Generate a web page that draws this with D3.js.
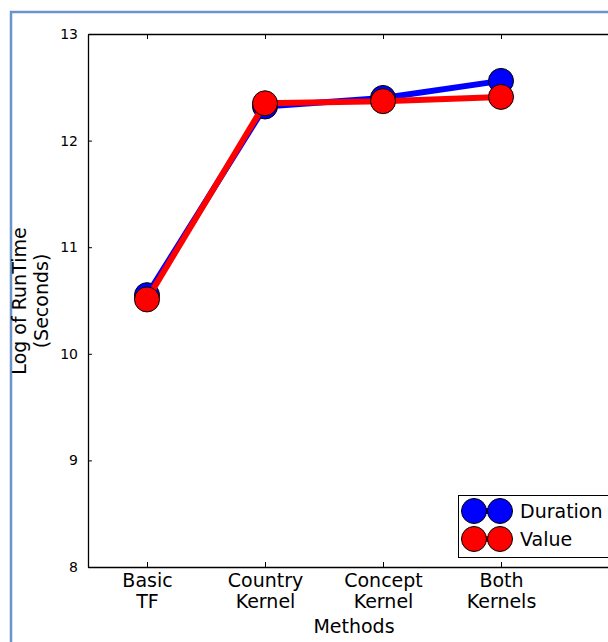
<!DOCTYPE html>
<html>
<head>
<meta charset="utf-8">
<script src="https://cdn.jsdelivr.net/npm/d3@7"></script>
<style>
  html, body { margin: 0; padding: 0; background: #fff; }
  svg { display: block; }
  svg text { font-family: "DejaVu Sans", sans-serif; fill: #000; }
</style>
</head>
<body>
<svg id="chart" width="608" height="642"></svg>
<script>
// Runtime per method, log scale
const categories = [["Basic", "TF"], ["Country", "Kernel"], ["Concept", "Kernel"], ["Both", "Kernels"]];
const durationValues = [10.55, 12.32, 12.40, 12.56];
const valueValues = [10.51, 12.35, 12.37, 12.41];
const yTicks = [8, 9, 10, 11, 12, 13];
const seriesNames = ["Duration", "Value"];
const seriesColors = ["#0000ff", "#ff0000"];

(function draw() {
  const svg = d3.select("#chart");

  // outer frame
  svg.append("path")
    .attr("d", "M11,642 L11,12 L608,12")
    .attr("fill", "none")
    .attr("stroke", "#6a93d0")
    .attr("stroke-width", 2.5);

  const plotLeft = 88, plotTop = 34, plotBottom = 567;
  const x = d3.scaleLinear().domain([0.5, 5.5]).range([plotLeft, plotLeft + 5 * 118]);
  const y = d3.scaleLinear().domain([8, 13]).range([plotBottom, plotTop]);

  const g = svg.append("g");

  // y axis
  const yAxis = d3.axisLeft(y).tickValues(yTicks).tickSizeInner(-4).tickSizeOuter(0).tickPadding(10).tickFormat(d3.format("d"));
  g.append("g").attr("transform", `translate(${plotLeft},0)`).call(yAxis)
    .call(s => s.select(".domain").attr("stroke", "#000").attr("stroke-width", 1.3))
    .call(s => s.selectAll("text").attr("font-size", 14));

  // bottom axis
  const idx = [1, 2, 3, 4];
  const xAxis = d3.axisBottom(x).tickValues(idx).tickSizeInner(-5).tickSizeOuter(0).tickFormat("");
  const xg = g.append("g").attr("transform", `translate(0,${plotBottom})`).call(xAxis);
  xg.select(".domain").attr("stroke", "#000").attr("stroke-width", 1.3);
  xg.selectAll(".tick").each(function(d) {
    const t = d3.select(this).append("text")
      .attr("text-anchor", "middle").attr("font-size", 19);
    categories[d - 1].forEach((line, i) => {
      t.append("tspan").attr("x", 0).attr("y", 20 + i * 21).text(line);
    });
  });

  // top axis
  const tg = g.append("g").attr("transform", `translate(0,${plotTop})`)
    .call(d3.axisTop(x).tickValues(idx).tickSizeInner(-5).tickSizeOuter(0).tickFormat(""));
  tg.select(".domain").attr("stroke", "#000").attr("stroke-width", 1.3);

  // axis titles
  svg.append("text").attr("x", 354).attr("y", 632.5).attr("text-anchor", "middle")
    .attr("font-size", 19).text("Methods");
  const yl = svg.append("text").attr("transform", "translate(0,301) rotate(-90)")
    .attr("text-anchor", "middle").attr("font-size", 19);
  yl.append("tspan").attr("x", 0).attr("y", 26).text("Log of RunTime");
  yl.append("tspan").attr("x", 0).attr("y", 48).text("(Seconds)");

  // series
  const line = d3.line().x((d, i) => x(i + 1)).y(d => y(d));
  [durationValues, valueValues].forEach((vals, k) => {
    g.append("path").datum(vals).attr("d", line)
      .attr("fill", "none").attr("stroke", seriesColors[k]).attr("stroke-width", 6)
      .attr("stroke-linejoin", "round");
    g.selectAll(null).data(vals).enter().append("circle")
      .attr("cx", (d, i) => x(i + 1)).attr("cy", d => y(d)).attr("r", 12.5)
      .attr("fill", seriesColors[k]).attr("stroke", "#000").attr("stroke-width", 1);
  });

  // legend
  const lg = svg.append("g");
  lg.append("rect").attr("x", 458.5).attr("y", 495.5).attr("width", 160).attr("height", 62)
    .attr("fill", "#fff").attr("stroke", "#000").attr("stroke-width", 1);
  seriesNames.forEach((name, k) => {
    const cy = 511 + k * 28;
    lg.append("line").attr("x1", 474).attr("x2", 500).attr("y1", cy).attr("y2", cy)
      .attr("stroke", seriesColors[k]).attr("stroke-width", 6);
    [474, 500].forEach(cx => lg.append("circle").attr("cx", cx).attr("cy", cy).attr("r", 12.5)
      .attr("fill", seriesColors[k]).attr("stroke", "#000").attr("stroke-width", 1));
    lg.append("text").attr("x", 520).attr("y", cy + 7).attr("font-size", 19).text(name);
  });
})();
</script>
</body>
</html>
